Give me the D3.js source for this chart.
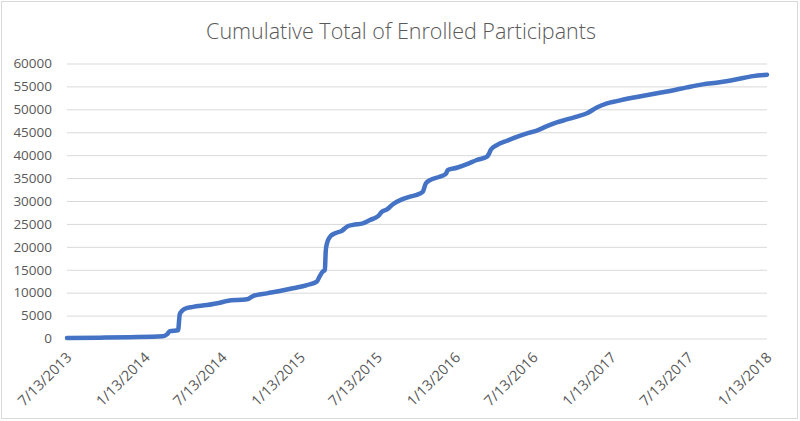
<!DOCTYPE html>
<html>
<head>
<meta charset="utf-8">
<script src="https://cdn.jsdelivr.net/npm/d3@7"></script>
<style>
  body { margin: 0; background: #fff; }
  svg { display: block; font-family: "Open Sans", "Liberation Sans", sans-serif; }
</style>
</head>
<body>
<svg width="800" height="421"></svg>
<script>
// cumulative enrolment
let dates = [
    "2013-07-13", "2013-09-28", "2013-12-08", "2014-02-23", "2014-03-05", "2014-03-12",
    "2014-03-31", "2014-04-04", "2014-04-09", "2014-04-16", "2014-05-05", "2014-06-07",
    "2014-07-07", "2014-07-24", "2014-09-09", "2014-09-23", "2014-10-26", "2014-11-25",
    "2014-12-26", "2015-01-28", "2015-02-20", "2015-02-27", "2015-03-06", "2015-03-11",
    "2015-03-13", "2015-03-16", "2015-03-23", "2015-04-04", "2015-04-20", "2015-05-02",
    "2015-05-16", "2015-06-08", "2015-06-25", "2015-07-14", "2015-07-23", "2015-08-04",
    "2015-08-18", "2015-09-08", "2015-09-27", "2015-10-16", "2015-10-27", "2015-11-03",
    "2015-11-13", "2015-12-06", "2015-12-20", "2015-12-25", "2016-01-15", "2016-02-08",
    "2016-03-02", "2016-03-26", "2016-03-30", "2016-04-04", "2016-04-18", "2016-05-12",
    "2016-06-04", "2016-06-28", "2016-07-21", "2016-08-14", "2016-09-06", "2016-09-30",
    "2016-10-23", "2016-11-16", "2016-12-09", "2017-01-02", "2017-01-25", "2017-02-18",
    "2017-03-13", "2017-04-20", "2017-05-30", "2017-07-09", "2017-08-15", "2017-09-24",
    "2017-11-03", "2017-12-11", "2018-01-13"
];
let totals = [
    100, 180, 280, 480, 900, 1600,
    1800, 5300, 6000, 6500, 6900, 7300,
    7800, 8200, 8550, 9250, 9850, 10350,
    10950, 11650, 12400, 13600, 14600, 15000,
    19000, 20800, 22200, 22950, 23500, 24400,
    24800, 25100, 25850, 26700, 27650, 28150,
    29300, 30350, 30950, 31450, 32000, 33800,
    34550, 35300, 35900, 36750, 37250, 38050,
    38950, 39700, 40200, 41200, 42200, 43150,
    44000, 44750, 45350, 46350, 47150, 47800,
    48400, 49150, 50400, 51300, 51800, 52300,
    52700, 53350, 54000, 54800, 55450, 55900,
    56550, 57250, 57550
];
let xTicks = ["2013-07-13", "2014-01-13", "2014-07-13", "2015-01-13", "2015-07-13",
    "2016-01-13", "2016-07-13", "2017-01-13", "2017-07-13", "2018-01-13"];
let yTicks = [0, 5000, 10000, 15000, 20000, 25000, 30000, 35000, 40000, 45000, 50000, 55000, 60000];
let title = "Cumulative Total of Enrolled Participants";

let parse = d3.timeParse("%Y-%m-%d");
let fmt = d3.timeFormat("%-m/%-d/%Y");
let data = dates.map((d, i) => ({date: parse(d), value: totals[i]}));

let svg = d3.select("svg");
let plotLeft = 67, plotRight = 767, plotTop = 63.5, plotBottom = 338.5;

// outer frame
svg.append("rect")
    .attr("x", 1.5).attr("y", 1.5)
    .attr("width", 796).attr("height", 417)
    .attr("fill", "#fff")
    .attr("stroke", "#d9d9d9");

let x = d3.scaleTime()
    .domain([parse(xTicks[0]), parse(xTicks[xTicks.length - 1])])
    .range([plotLeft, plotRight]);
let y = d3.scaleLinear().domain([0, 60000]).range([plotBottom, plotTop]);

// gridlines + y labels
let yAxis = svg.append("g")
    .attr("transform", "translate(" + plotLeft + ",0)")
    .call(d3.axisLeft(y).tickValues(yTicks).tickSize(-(plotRight - plotLeft)).tickPadding(15).tickFormat(d3.format("d")));
yAxis.select(".domain").remove();
yAxis.selectAll("line").attr("stroke", "#d9d9d9").attr("stroke-width", 1);
yAxis.selectAll("text")
    .attr("fill", "#595959")
    .attr("font-size", "13.5px")
    .attr("font-family", "'Open Sans', sans-serif");

// x labels
let xAxis = svg.append("g")
    .attr("transform", "translate(0," + plotBottom + ")")
    .call(d3.axisBottom(x).tickValues(xTicks.map(parse)).tickSize(0).tickFormat(fmt));
xAxis.select(".domain").remove();
xAxis.selectAll("text")
    .attr("fill", "#595959")
    .attr("font-size", "14.5px")
    .attr("font-family", "'Open Sans', sans-serif")
    .attr("text-anchor", "end")
    .attr("dy", null)
    .attr("y", null)
    .attr("transform", "translate(5,20) rotate(-45)");

// line
let line = d3.line()
    .x(d => x(d.date))
    .y(d => y(d.value))
    .curve(d3.curveMonotoneX);

svg.append("path")
    .datum(data)
    .attr("d", line)
    .attr("fill", "none")
    .attr("stroke", "#4472c4")
    .attr("stroke-width", 4.5)
    .attr("stroke-linejoin", "round")
    .attr("stroke-linecap", "round");

// title
svg.append("text")
    .attr("x", 401)
    .attr("y", 39)
    .attr("text-anchor", "middle")
    .attr("fill", "#595959")
    .attr("font-size", "21.5px")
    .attr("font-weight", 300)
    .text(title);
</script>
</body>
</html>
